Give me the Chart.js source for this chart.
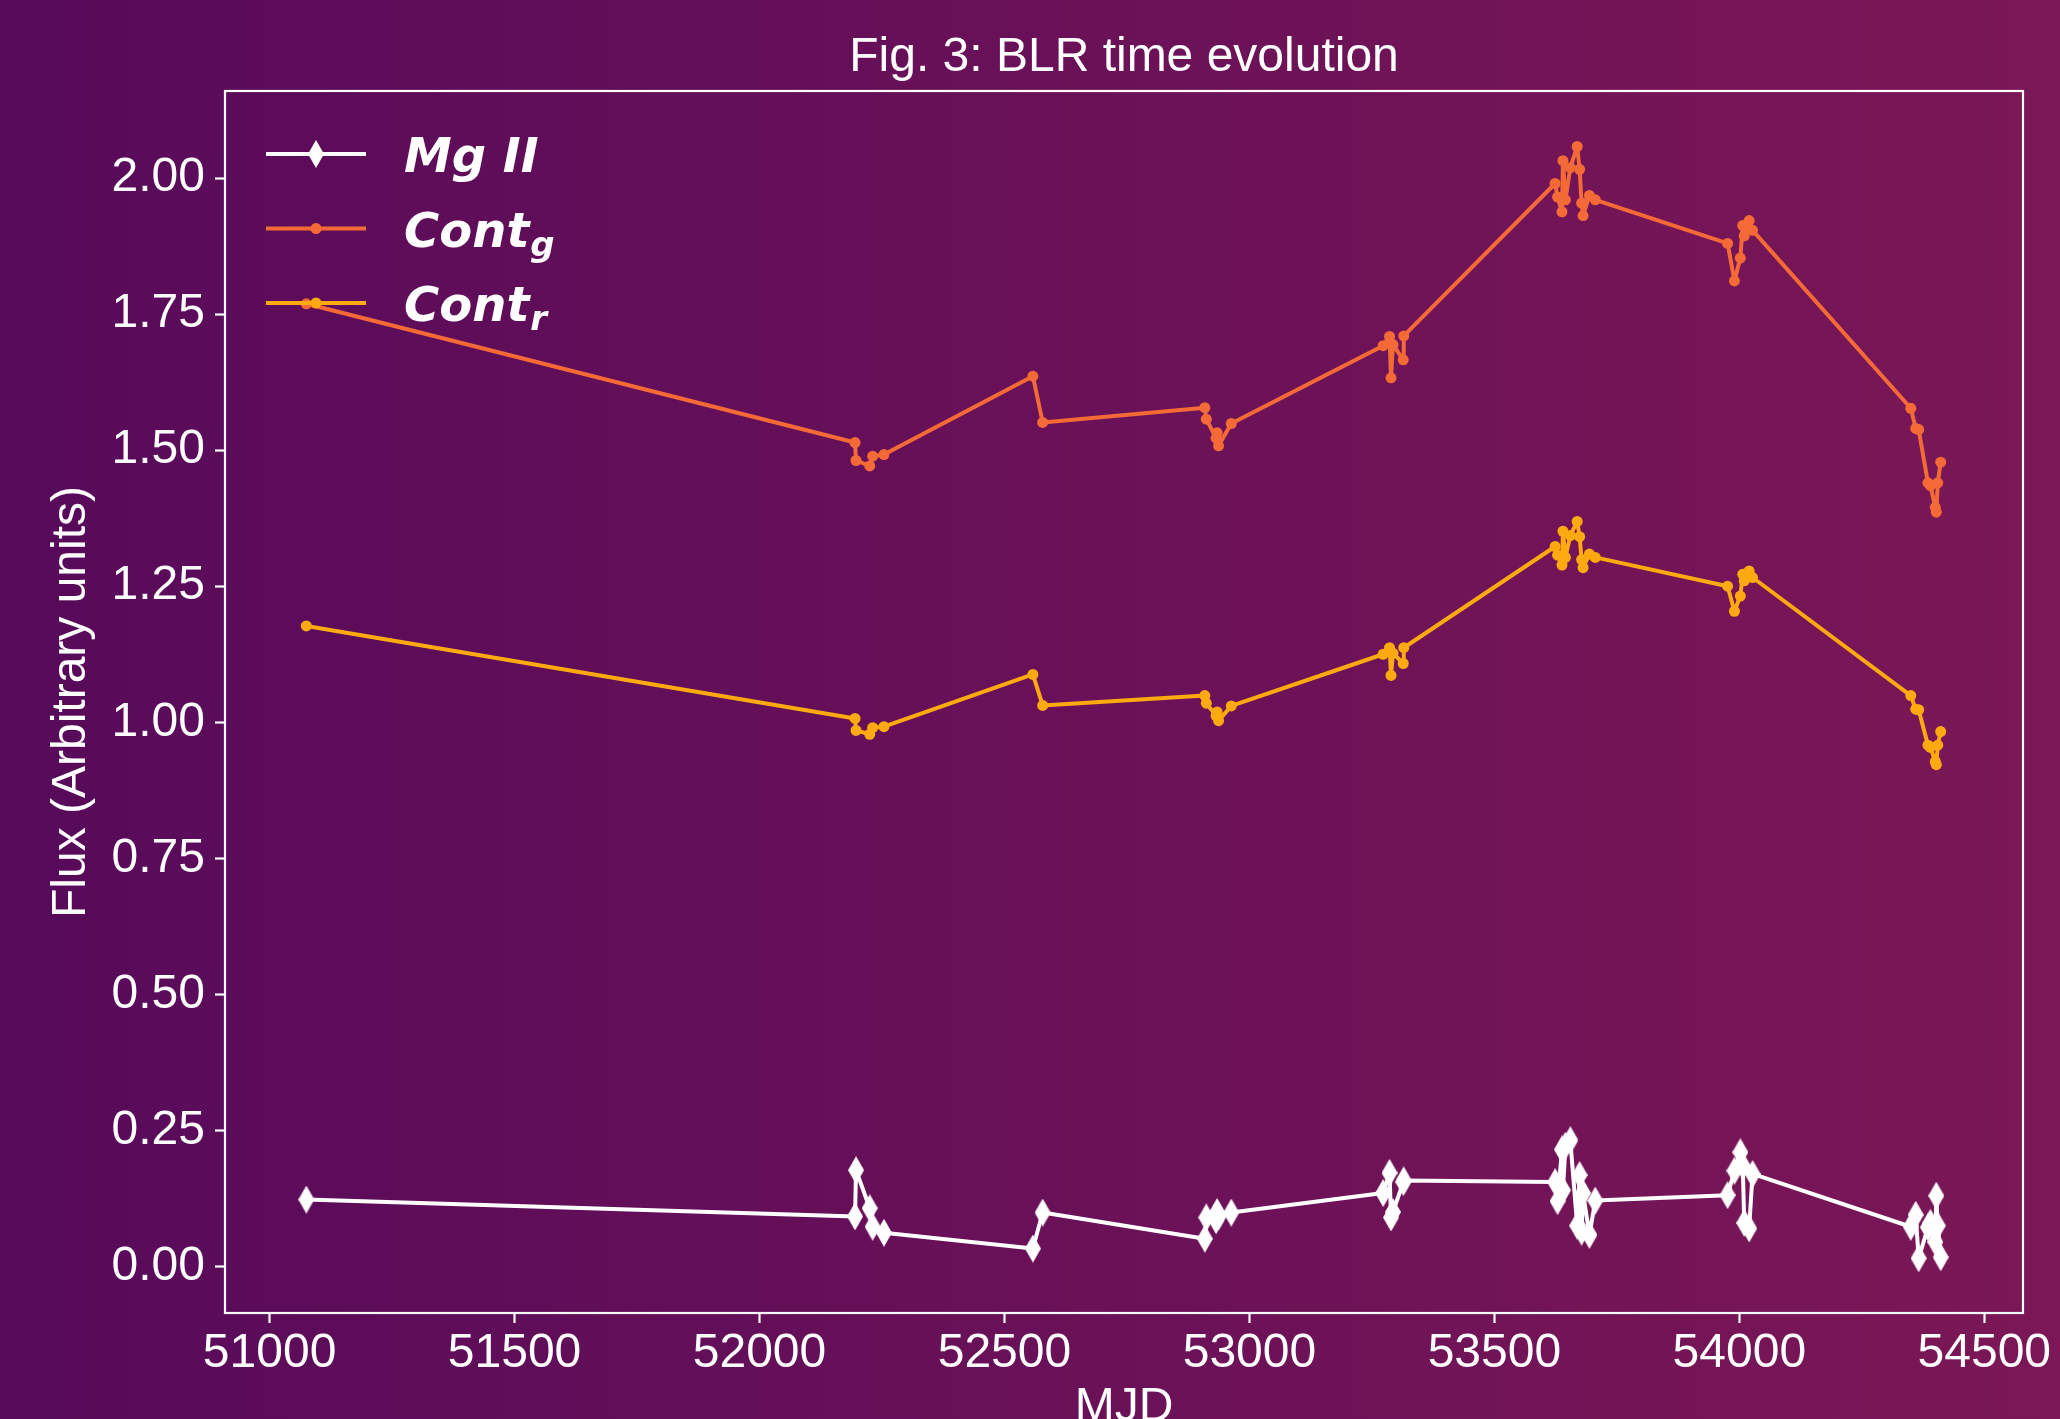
<!DOCTYPE html>
<html>
<head>
<meta charset="utf-8">
<title>Fig. 3: BLR time evolution</title>
<script src="https://cdn.jsdelivr.net/npm/chart.js@4.4.1/dist/chart.umd.min.js"></script>
<style>
  html, body { margin: 0; padding: 0; background: #5a0a5a; overflow: hidden; }
  #wrap { width: 2060px; height: 1419px; position: relative; }
</style>
</head>
<body>
<div id="wrap"><canvas id="myChart"></canvas></div>
<script>
// observation dates (MJD), shared by the three series
const mjd = [51075, 52195, 52197, 52225, 52231, 52254, 52558, 52578,
    52909, 52912, 52932, 52934, 52937, 52963,
    53273, 53286, 53289, 53293, 53314, 53315,
    53624, 53629, 53638, 53640, 53645, 53655, 53669, 53674, 53678, 53681, 53694, 53706,
    53976, 53990, 54002, 54007, 54010, 54020, 54027,
    54350, 54360, 54366, 54385, 54390, 54400, 54402, 54405, 54411]

const mgII = [0.123, 0.092, 0.177, 0.107, 0.073, 0.062, 0.033, 0.099,
    0.051, 0.090, 0.085, 0.100, 0.092, 0.099,
    0.135, 0.172, 0.090, 0.100, 0.155, 0.158,
    0.155, 0.120, 0.215, 0.140, 0.222, 0.232, 0.075, 0.168, 0.064, 0.135, 0.058, 0.121,
    0.131, 0.176, 0.210, 0.185, 0.080, 0.070, 0.170,
    0.073, 0.095, 0.015, 0.072, 0.080, 0.045, 0.130, 0.075, 0.017]

const contG = [1.769, 1.514, 1.481, 1.471, 1.489, 1.492, 1.636, 1.551,
    1.578, 1.557, 1.522, 1.532, 1.508, 1.549,
    1.692, 1.709, 1.633, 1.694, 1.666, 1.710,
    1.990, 1.965, 1.938, 2.032, 1.960, 2.019, 2.058, 2.016, 1.954, 1.931, 1.968, 1.960,
    1.880, 1.811, 1.853, 1.913, 1.894, 1.922, 1.904,
    1.577, 1.540, 1.538, 1.440, 1.435, 1.395, 1.386, 1.440, 1.478]

const contR = [1.177, 1.007, 0.985, 0.978, 0.990, 0.992, 1.088, 1.031,
    1.049, 1.035, 1.012, 1.019, 1.003, 1.030,
    1.125, 1.137, 1.086, 1.127, 1.108, 1.137,
    1.323, 1.307, 1.289, 1.351, 1.303, 1.343, 1.369, 1.341, 1.299, 1.284, 1.309, 1.303,
    1.250, 1.204, 1.232, 1.272, 1.260, 1.278, 1.266,
    1.049, 1.024, 1.023, 0.958, 0.954, 0.928, 0.922, 0.958, 0.983]

const seriesLabels = ['Mg II', 'Cont_g', 'Cont_r']
const xTicks = [51000, 51500, 52000, 52500, 53000, 53500, 54000, 54500]
const yTicks = [0, 0.25, 0.5, 0.75, 1, 1.25, 1.5, 1.75, 2]

const toPoints = (ys) => mjd.map((x, i) => ({ x: x, y: ys[i] }))

// matplotlib style thin diamond marker
function thinDiamond(w, h, color) {
    const c = document.createElement('canvas')
    c.width = w
    c.height = h
    const g = c.getContext('2d')
    g.fillStyle = color
    g.beginPath()
    g.moveTo(w / 2, 0)
    g.lineTo(w, h / 2)
    g.lineTo(w / 2, h)
    g.lineTo(0, h / 2)
    g.closePath()
    g.fill()
    return c
}
const diamond = thinDiamond(16, 28, '#ffffff')

const bgPlugin = {
    id: 'bg',
    beforeDraw(chart) {
        const ctx = chart.ctx
        const grad = ctx.createLinearGradient(0, 0, chart.width, 0)
        grad.addColorStop(0, '#570a5a')
        grad.addColorStop(1, '#7b1756')
        ctx.save()
        ctx.fillStyle = grad
        ctx.fillRect(0, 0, chart.width, chart.height)
        ctx.restore()
    }
}

const framePlugin = {
    id: 'frame',
    beforeDatasetsDraw(chart) {
        const a = chart.chartArea
        const ctx = chart.ctx
        ctx.save()
        ctx.strokeStyle = '#ffffff'
        ctx.lineWidth = 2.2
        ctx.strokeRect(a.left, a.top, a.right - a.left, a.bottom - a.top)
        ctx.restore()
    }
}

// legend drawn by hand so that the subscripts g and r can be shown
const legendPlugin = {
    id: 'subLegend',
    afterDraw(chart) {
        const a = chart.chartArea
        const ctx = chart.ctx
        const x0 = a.left + 41
        const tx = a.left + 179
        ctx.save()
        chart.data.datasets.forEach((ds, i) => {
            const y = a.top + 63 + i * 74.5
            ctx.strokeStyle = ds.borderColor
            ctx.lineWidth = 4
            ctx.beginPath()
            ctx.moveTo(x0, y)
            ctx.lineTo(x0 + 100, y)
            ctx.stroke()
            if (ds.pointStyle instanceof HTMLCanvasElement) {
                ctx.drawImage(ds.pointStyle, x0 + 50 - ds.pointStyle.width / 2, y - ds.pointStyle.height / 2)
            } else {
                ctx.fillStyle = ds.pointBackgroundColor
                ctx.beginPath()
                ctx.arc(x0 + 50, y, ds.pointRadius, 0, Math.PI * 2)
                ctx.fill()
            }
            const parts = ds.label.split('_')
            ctx.fillStyle = '#ffffff'
            ctx.textBaseline = 'alphabetic'
            ctx.font = 'italic bold 48px "DejaVu Sans"'
            ctx.fillText(parts[0], tx, y + 18)
            if (parts[1]) {
                const w = ctx.measureText(parts[0]).width
                ctx.font = 'italic bold 34px "DejaVu Sans"'
                ctx.fillText(parts[1], tx + w + 1, y + 27)
            }
        })
        ctx.restore()
    }
}

Chart.defaults.font.family = '"Liberation Sans", Arial, sans-serif'
Chart.defaults.color = '#ffffff'

const data = {
    datasets: [{
        label: seriesLabels[0],
        data: toPoints(mgII),
        borderColor: '#ffffff',
        backgroundColor: '#ffffff',
        borderWidth: 4,
        borderJoinStyle: 'round',
        pointStyle: diamond,
        pointRadius: 12,
        tension: 0
    }, {
        label: seriesLabels[1],
        data: toPoints(contG),
        borderColor: '#f46a37',
        backgroundColor: '#f46a37',
        pointBackgroundColor: '#f46a37',
        borderWidth: 4,
        borderJoinStyle: 'round',
        pointRadius: 5.5,
        pointBorderWidth: 0,
        tension: 0
    }, {
        label: seriesLabels[2],
        data: toPoints(contR),
        borderColor: '#fcaa10',
        backgroundColor: '#fcaa10',
        pointBackgroundColor: '#fcaa10',
        borderWidth: 4,
        borderJoinStyle: 'round',
        pointRadius: 5.5,
        pointBorderWidth: 0,
        tension: 0
    }]
}

const config = {
    type: 'line',
    data: data,
    options: {
        responsive: true,
        maintainAspectRatio: false,
        animation: false,
        layout: {
            padding: { left: 0, right: 37, top: 0, bottom: 0 }
        },
        scales: {
            x: {
                type: 'linear',
                min: 50909,
                max: 54579,
                afterBuildTicks: (scale) => { scale.ticks = xTicks.map(v => ({ value: v })) },
                afterFit: (scale) => { scale.height = 106 },
                ticks: {
                    autoSkip: false,
                    maxRotation: 0,
                    padding: 2,
                    font: { size: 48 },
                    callback: (v) => String(v)
                },
                grid: {
                    drawOnChartArea: false,
                    drawTicks: true,
                    tickLength: 10,
                    tickWidth: 2.2,
                    tickColor: '#ffffff'
                },
                border: { display: false },
                title: {
                    display: true,
                    text: 'MJD',
                    font: { size: 48 },
                    padding: { top: 0, bottom: -18 }
                }
            },
            y: {
                min: -0.0855,
                max: 2.160,
                afterBuildTicks: (scale) => { scale.ticks = yTicks.map(v => ({ value: v })) },
                afterFit: (scale) => { scale.width = 225 },
                ticks: {
                    autoSkip: false,
                    padding: 10,
                    font: { size: 48 },
                    callback: (v) => v.toFixed(2)
                },
                grid: {
                    drawOnChartArea: false,
                    drawTicks: true,
                    tickLength: 10,
                    tickWidth: 2.2,
                    tickColor: '#ffffff'
                },
                border: { display: false },
                title: {
                    display: true,
                    text: 'Flux (Arbitrary units)',
                    font: { size: 48 },
                    padding: { top: 43, bottom: 0 }
                }
            }
        },
        plugins: {
            title: {
                display: true,
                fullSize: false,
                text: 'Fig. 3: BLR time evolution',
                font: { size: 48, weight: 'normal' },
                padding: { top: 28.6, bottom: 4.8 }
            },
            legend: { display: false },
            tooltip: { enabled: false }
        }
    },
    plugins: [bgPlugin, framePlugin, legendPlugin]
}

var myChart = new Chart(
    document.getElementById('myChart'),
    config
)
</script>
</body>
</html>
